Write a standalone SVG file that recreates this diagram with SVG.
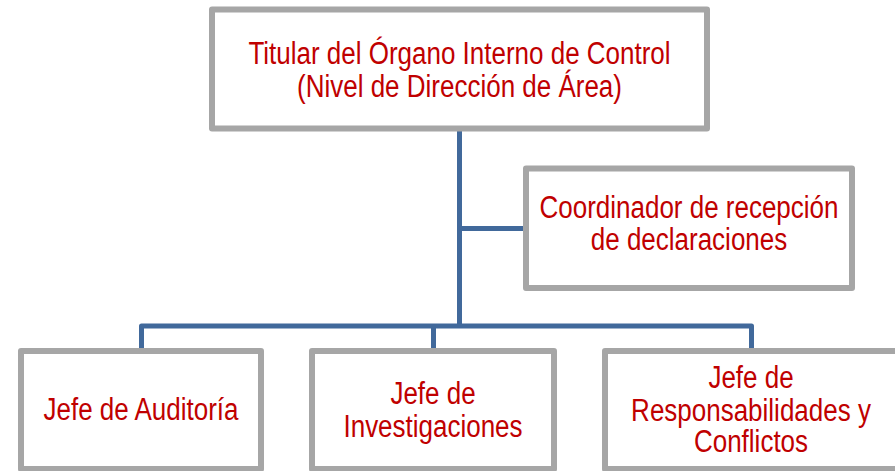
<svg xmlns="http://www.w3.org/2000/svg" width="895" height="471" viewBox="0 0 895 471">
<style>
.box{fill:#ffffff;stroke:#a6a6a6;stroke-width:6;stroke-linejoin:round}
.t{font-family:"Liberation Sans",Arial,sans-serif;font-size:26px;fill:#c00000;text-anchor:middle}
.conn{fill:none;stroke:#41699b;stroke-width:5;stroke-linejoin:round}
</style>
<rect width="895" height="471" fill="#ffffff"/>
<g id="connectors">
<path class="conn" d="M459.5 128 V326"/>
<path class="conn" d="M459.5 228.5 H526"/>
<path class="conn" d="M141.5 351 V326 H751.5 V351"/>
<path class="conn" d="M433.5 326 V351"/>
</g>
<g id="titular">
<rect class="box" x="212" y="9.5" width="495" height="119"/>
<text class="t" transform="matrix(1 0 0 1.24 459.5 64)"><tspan x="0" y="0">Titular del Órgano Interno de Control</tspan><tspan x="0" y="26.6">(Nivel de Dirección de Área)</tspan></text>
</g>
<g id="coordinador">
<rect class="box" x="526" y="168.5" width="326" height="119.5"/>
<text class="t" transform="matrix(1 0 0 1.24 689 218.3)"><tspan x="0" y="0">Coordinador de recepción</tspan><tspan x="0" y="25.2">de declaraciones</tspan></text>
</g>
<g id="auditoria">
<rect class="box" x="21" y="351" width="240" height="118"/>
<text class="t" transform="matrix(1 0 0 1.24 141 420)"><tspan x="0" y="0">Jefe de Auditoría</tspan></text>
</g>
<g id="investigaciones">
<rect class="box" x="312" y="351" width="242" height="118"/>
<text class="t" transform="matrix(1 0 0 1.24 433 404.3)"><tspan x="0" y="0">Jefe de</tspan><tspan x="0" y="26.1">Investigaciones</tspan></text>
</g>
<g id="responsabilidades">
<rect class="box" x="605" y="351" width="293" height="118"/>
<text class="t" transform="matrix(1 0 0 1.24 751 387.5)"><tspan x="0" y="0">Jefe de</tspan><tspan x="0" y="27">Responsabilidades y</tspan><tspan x="0" y="51.8">Conflictos</tspan></text>
</g>
</svg>
